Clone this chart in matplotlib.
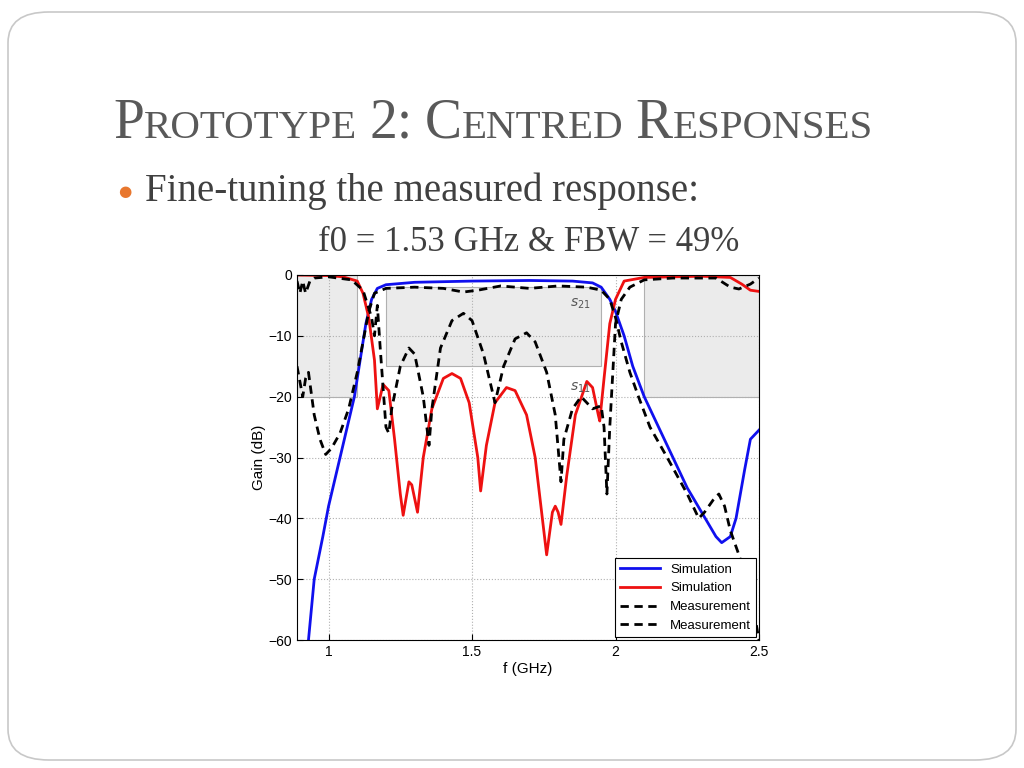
import matplotlib
matplotlib.use("Agg")
import matplotlib.pyplot as plt
from matplotlib.patches import FancyBboxPatch, Rectangle
import numpy as np

s21_sim_f = [0.93,0.95,0.98,1.0,1.03,1.06,1.09,1.11,1.13,1.15,1.17,1.2,1.3,1.5,1.7,1.85,1.92,1.95,1.98,2.0,2.03,2.06,2.1,2.15,2.2,2.25,2.3,2.35,2.37,2.4,2.42,2.45,2.47,2.5]
s21_sim_g = [-60,-50,-43,-38,-32,-26,-20,-14,-8,-4,-2.2,-1.6,-1.2,-1.0,-0.9,-1.0,-1.3,-2,-4,-6,-10,-15,-20,-25,-30,-35,-39,-43,-44,-43,-40,-32,-27,-25.5]

s11_sim_f = [0.89,1.0,1.05,1.1,1.12,1.14,1.16,1.17,1.18,1.19,1.21,1.23,1.25,1.26,1.28,1.29,1.31,1.33,1.36,1.4,1.43,1.46,1.49,1.52,1.53,1.55,1.58,1.62,1.65,1.69,1.72,1.75,1.76,1.78,1.79,1.8,1.81,1.83,1.86,1.9,1.92,1.94,1.945,1.96,1.98,2.0,2.03,2.1,2.3,2.4,2.44,2.47,2.5]
s11_sim_g = [0,-0.1,-0.3,-1,-3,-7,-14,-22,-20,-18,-19,-27,-36,-39.5,-34,-34.5,-39,-30,-22,-17,-16.2,-17,-21,-30,-35.5,-28,-21,-18.5,-19,-23,-30,-42,-46,-39,-38,-39,-41,-33,-23,-17.5,-18.5,-23,-24,-17,-8,-4,-1,-0.4,-0.2,-0.4,-1.5,-2.5,-2.7]

s21_meas_f = [0.89,0.91,0.92,0.93,0.95,0.97,0.99,1.0,1.01,1.04,1.07,1.1,1.12,1.14,1.16,1.2,1.3,1.4,1.47,1.52,1.6,1.7,1.8,1.9,1.95,1.98,2.0,2.02,2.05,2.08,2.12,2.18,2.25,2.29,2.31,2.34,2.36,2.38,2.4,2.43,2.47,2.5]
s21_meas_g = [-15,-20,-17,-16,-23,-27,-29.5,-29,-28.5,-26,-22,-16,-11,-6,-3,-2.2,-2,-2.2,-2.8,-2.5,-1.8,-2.2,-1.8,-2,-2.5,-4,-7,-11,-16,-20,-25,-30,-36,-40,-39,-37,-36,-38,-42,-46,-52,-60]

s11_meas_f = [0.89,0.9,0.91,0.92,0.935,0.95,1.0,1.08,1.12,1.15,1.16,1.17,1.18,1.2,1.21,1.22,1.25,1.28,1.3,1.33,1.35,1.36,1.39,1.43,1.47,1.5,1.54,1.57,1.58,1.61,1.65,1.69,1.72,1.76,1.79,1.81,1.82,1.85,1.88,1.9,1.92,1.95,1.96,1.97,1.98,2.0,2.02,2.05,2.1,2.2,2.35,2.4,2.43,2.47,2.5]
s11_meas_g = [-1,-3,-1,-3,-1,-0.5,-0.3,-0.8,-2.5,-7,-10,-5,-12,-25,-26,-22,-15,-12,-13,-20,-28,-22,-12,-7.5,-6.3,-7.5,-13,-19,-21,-15,-10.5,-9.5,-11,-16,-23,-34,-27,-22,-20,-21,-22,-21.5,-25,-36,-25,-8,-4,-2,-0.8,-0.5,-0.5,-2,-2.3,-1.5,-0.5]

legend_labels = ["Simulation", "Simulation", "Measurement", "Measurement"]
x_ticks = [1, 1.5, 2, 2.5]
y_ticks = [0, -10, -20, -30, -40, -50, -60]

fig = plt.figure(figsize=(10.24, 7.68), dpi=100)
fig.patch.set_facecolor("white")
fig.patches.append(FancyBboxPatch((8/1024, 8/768), 1008/1024, 748/768,
    boxstyle="round,pad=0,rounding_size=0.04", transform=fig.transFigure,
    facecolor="none", edgecolor="#c8c8c8", lw=1.2))

def smallcaps(fig, x, y, text, big, small, color):
    r = fig.canvas.get_renderer()
    cur = x
    for word_i, word in enumerate(text.split(" ")):
        if word_i:
            cur += 0.012
        i = 0
        while i < len(word):
            ch = word[i]
            j = i
            upper = not ch.islower()
            while j < len(word) and (not word[j].islower()) == upper:
                j += 1
            seg = word[i:j]
            t = fig.text(cur, y, seg.upper(), fontsize=big if upper else small,
                         family="Liberation Serif", color=color)
            bb = t.get_window_extent(r)
            cur += bb.width / fig.bbox.width
            i = j
smallcaps(fig, 113/1024, 1-138/768, "Prototype 2: Centred Responses", 40, 29.5, "#595959")

fig.text(118/1024, 1-191/768, "\u25cf", fontsize=11, color="#e8772e", va="center", family="DejaVu Sans")
fig.text(145/1024, 1-201/768, "Fine-tuning the measured response:", fontsize=28,
         family="Liberation Serif", color="#404040")
fig.text(529/1024, 1-251/768, "f0 = 1.53 GHz & FBW = 49%", fontsize=25, ha="center",
         family="Liberation Serif", color="#404040")

ax = fig.add_axes([297/1024, 1-640/768, 462/1024, 365/768])
ax.set_xlim(0.89, 2.5)
ax.set_ylim(-60, 0)
for (x0, x1, y0, y1) in [(0.89, 1.1, -20, 0), (1.2, 1.95, -15, -2), (2.1, 2.5, -20, 0)]:
    ax.add_patch(Rectangle((x0, y0), x1-x0, y1-y0, facecolor="#ebebeb", edgecolor="#b0b0b0", lw=0.8, zorder=0.5))
ax.grid(True, ls=":", color="#b0b0b0", lw=0.8)
ax.set_axisbelow(True)
ax.plot(s21_sim_f, s21_sim_g, color="#1010ee", lw=2, label=legend_labels[0])
ax.plot(s11_sim_f, s11_sim_g, color="#ee1111", lw=2, label=legend_labels[1])
ax.plot(s21_meas_f, s21_meas_g, color="black", lw=2, ls=(0, (3, 2)), label=legend_labels[2])
ax.plot(s11_meas_f, s11_meas_g, color="black", lw=2, ls=(0, (3, 2)), label=legend_labels[3])
ax.set_xticks(x_ticks)
ax.set_xticklabels(["1", "1.5", "2", "2.5"])
ax.set_yticks(y_ticks)
ax.set_yticklabels(["0", "\u221210", "\u221220", "\u221230", "\u221240", "\u221250", "\u221260"])
ax.tick_params(labelsize=10, direction="in", length=4)
for lab in ax.get_xticklabels() + ax.get_yticklabels():
    lab.set_family("Liberation Sans")
ax.set_xlabel("f (GHz)", fontsize=11, family="Liberation Sans", labelpad=2)
ax.set_ylabel("Gain (dB)", fontsize=11, family="Liberation Sans", labelpad=2)
ax.text(1.84, -5.2, "$s_{21}$", fontsize=10, color="#555555")
ax.text(1.84, -19, "$s_{11}$", fontsize=10, color="#555555")
leg = ax.legend(loc="lower right", fancybox=False, framealpha=1,
                edgecolor="black", borderaxespad=0.2, handlelength=3,
                prop={"family": "Liberation Sans", "size": 9.5})
leg.get_frame().set_linewidth(0.8)
fig.savefig("out.png", dpi=100)
